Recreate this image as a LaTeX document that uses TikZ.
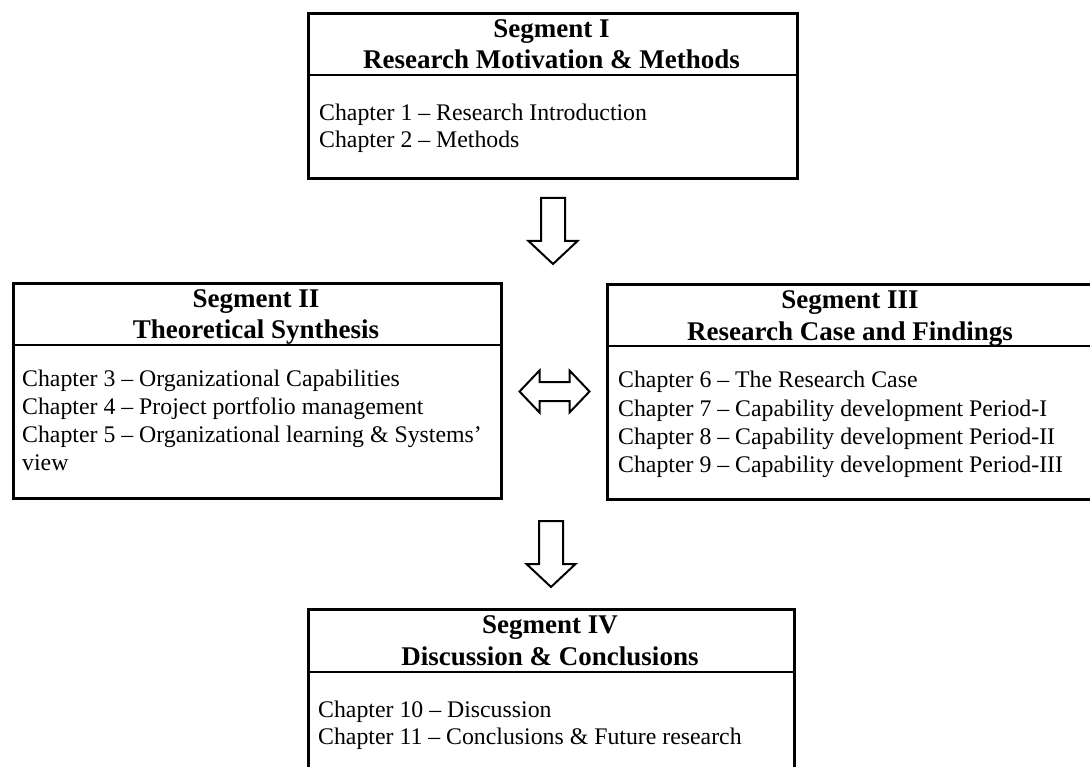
\documentclass[tikz,border=0pt]{standalone}
\usepackage{fontspec}
\setmainfont{Liberation Serif}
\usetikzlibrary{calc}

\begin{document}
\begin{tikzpicture}[x=1pt,y=-1pt,
  segbox/.style={draw, line width=3pt, inner sep=0pt, anchor=north west, rectangle},
  divider/.style={line width=2.5pt},
  segtitle/.style={font=\fontsize{27}{31}\selectfont\bfseries, anchor=base, inner sep=0pt},
  chapline/.style={font=\fontsize{23.8}{28}\selectfont, anchor=base west, inner sep=0pt},
  blockarrow/.style={draw, fill=white, line width=2pt, line join=miter},
  pics/downarrow/.style={code={
    \draw[blockarrow] (-12,-33) -- (12,-33) -- (12,10) -- (24.5,10) -- (0,33)
      -- (-24.5,10) -- (-12,10) -- cycle;}},
  pics/twowayarrow/.style={code={
    \draw[blockarrow] (-35,0) -- (-15,-21) -- (-15,-9.5) -- (15,-9.5) -- (15,-21)
      -- (35,0) -- (15,21) -- (15,9.5) -- (-15,9.5) -- (-15,21) -- cycle;}},
]
\clip (0,0) rectangle (1090,767);
\fill[white] (0,0) rectangle (1090,767);

% Segment boxes
\node[segbox, minimum width=489pt, minimum height=165pt] (seg1) at (307,12) {};
\node[segbox, minimum width=488pt, minimum height=215pt] (seg2) at (12,282) {};
\node[segbox, minimum width=492pt, minimum height=215pt] (seg3) at (606,283) {};
\node[segbox, minimum width=486pt, minimum height=200pt] (seg4) at (307,608) {};

% Header dividers
\draw[divider] ($(seg1.north west)+(0,63)$) -- ($(seg1.north east)+(0,63)$);
\draw[divider] ($(seg2.north west)+(0,63)$) -- ($(seg2.north east)+(0,63)$);
\draw[divider] ($(seg3.north west)+(0,63)$) -- ($(seg3.north east)+(0,63)$);
\draw[divider] ($(seg4.north west)+(0,64)$) -- ($(seg4.north east)+(0,64)$);

% Segment I
\node[segtitle] (t1a) at (551.5,38) {Segment I};
\node[segtitle] (t1b) at (551.5,69) {Research Motivation \& Methods};
\node[chapline] (c1) at (319,121) {Chapter 1 – Research Introduction};
\node[chapline] (c2) at (319,148) {Chapter 2 – Methods};

% Segment II
\node[segtitle] (t2a) at (256,308) {Segment II};
\node[segtitle] (t2b) at (256,339) {Theoretical Synthesis};
\node[chapline] (c3) at (22,386) {Chapter 3 – Organizational Capabilities};
\node[chapline] (c4) at (22,414) {Chapter 4 – Project portfolio management};
\node[chapline] (c5) at (22,442) {Chapter 5 – Organizational learning \& Systems’};
\node[chapline] (c5b) at (22,470) {view};

% Segment III
\node[segtitle] (t3a) at (850,309) {Segment III};
\node[segtitle] (t3b) at (850,341) {Research Case and Findings};
\node[chapline] (c6) at (618,388) {Chapter 6 – The Research Case};
\node[chapline] (c7) at (618,416) {Chapter 7 – Capability development Period-I};
\node[chapline] (c8) at (618,444) {Chapter 8 – Capability development Period-II};
\node[chapline] (c9) at (618,472) {Chapter 9 – Capability development Period-III};

% Segment IV
\node[segtitle] (t4a) at (550,633) {Segment IV};
\node[segtitle] (t4b) at (550,665) {Discussion \& Conclusions};
\node[chapline] (c10) at (318,717) {Chapter 10 – Discussion};
\node[chapline] (c11) at (318,744) {Chapter 11 – Conclusions \& Future research};

% Block arrows between segments
\pic (flowA) at ($(seg1.south)!0.5!(seg1.south |- seg2.north)$) {downarrow};
\pic (flowB) at ($(seg2.east)!0.5!(seg3.west)$) {twowayarrow};
\pic (flowC) at (551,554) {downarrow};
\end{tikzpicture}
\end{document}
